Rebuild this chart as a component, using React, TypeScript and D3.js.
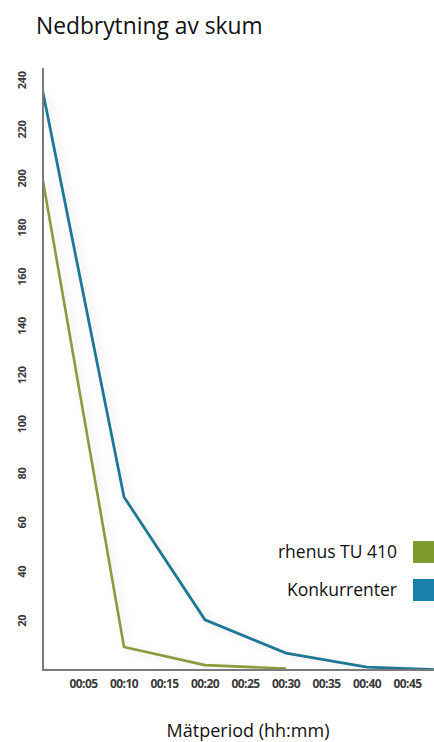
import React from "react";
import * as d3 from "d3";

// Minutes since start
const minutes = [0, 10, 20, 30, 40, 50];
const rhenusValues = [199, 9.4, 2, 0.6];
const konkurrentValues = [235, 70.4, 20.4, 6.9, 1.2, 0];
const yTicks = [20, 40, 60, 80, 100, 120, 140, 160, 180, 200, 220, 240];
const xTicks = [5, 10, 15, 20, 25, 30, 35, 40, 45];
const xTickLabels = ["00:05", "00:10", "00:15", "00:20", "00:25", "00:30", "00:35", "00:40", "00:45"];
const seriesNames = ["rhenus TU 410", "Konkurrenter"];

const W = 434;
const H = 742;
const left = 43;
const top = 68;
const bottom = 670;

export default function App() {
  const x = d3.scaleLinear().domain([0, 10]).range([left, left + 81]);
  const y = d3.scaleLinear().domain([0, 245]).range([bottom, top]);
  const line = d3
    .line<number>()
    .x((_, i) => x(minutes[i]))
    .y((d) => y(d))
    .curve(d3.curveLinear);

  const greenLine = "#8a9a3c";
  const blueLine = "#1d7896";
  const greenSw = "#7f9b2c";
  const blueSw = "#1b7fad";

  return (
    <svg
      width={W}
      height={H}
      style={{ position: "absolute", left: 0, top: 0, background: "#fff" }}
      fontFamily="'Open Sans', sans-serif"
    >
      <defs>
        <filter id="glow" x="-20%" y="-20%" width="140%" height="140%">
          <feDropShadow dx="4" dy="3" stdDeviation="4" floodColor="#8a8f99" floodOpacity="0.28" />
        </filter>
        <clipPath id="plotclip">
          <rect x={left} y={0} width={W - left} height={bottom + 1} />
        </clipPath>
      </defs>

      <text x={36} y={34} fontSize={22.8} fill="#111">
        Nedbrytning av skum
      </text>

      {/* y tick labels */}
      {yTicks.map((t) => (
        <text
          key={t}
          transform={`translate(26, ${y(t)}) rotate(-90)`}
          textAnchor="middle"
          fontSize={11}
          fontWeight="bold"
          letterSpacing={-0.3}
          fill="#3a3a3a"
        >
          {t}
        </text>
      ))}

      {/* x tick labels */}
      {xTicks.map((t, i) => (
        <text
          key={t}
          x={x(t)}
          y={688}
          textAnchor="middle"
          fontSize={12}
          fontWeight="bold"
          letterSpacing={-0.6}
          fill="#3a3a3a"
        >
          {xTickLabels[i]}
        </text>
      ))}

      <g clipPath="url(#plotclip)">
        <path d={line(rhenusValues) || ""} fill="none" stroke={greenLine} strokeWidth={2.6} filter="url(#glow)" />
        <path d={line(konkurrentValues) || ""} fill="none" stroke={blueLine} strokeWidth={2.8} filter="url(#glow)" />
      </g>

      {/* axes */}
      <line x1={left} x2={left} y1={top} y2={bottom} stroke="#7a7a7a" strokeWidth={2} />
      <line x1={left - 1} x2={W} y1={bottom} y2={bottom} stroke="#7a7a7a" strokeWidth={2} />

      {/* legend */}
      {seriesNames.map((name, i) => (
        <g key={name}>
          <rect x={265} y={539 + i * 38} width={135} height={26} fill="#fff" />
          <text x={397} y={558 + i * 38} textAnchor="end" fontSize={17.5} fill="#111">
            {name}
          </text>
          <rect x={413} y={541 + i * 38} width={22} height={22} fill={i === 0 ? greenSw : blueSw} />
        </g>
      ))}

      <text x={248} y={737} textAnchor="middle" fontSize={18} fill="#111">
        Mätperiod (hh:mm)
      </text>
    </svg>
  );
}
